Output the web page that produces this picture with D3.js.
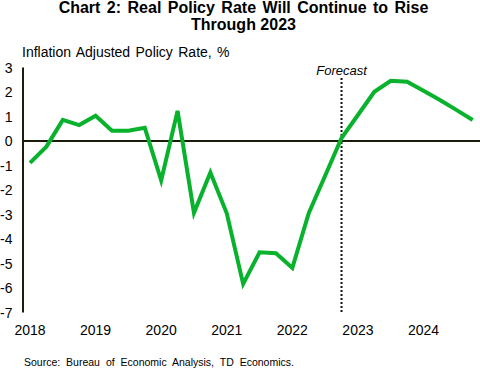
<!DOCTYPE html>
<html><head><meta charset="utf-8">
<script src="https://cdn.jsdelivr.net/npm/d3@7/dist/d3.min.js"></script>
<style>body{margin:0;background:#fff;} svg{display:block;font-family:"Liberation Sans",Arial,sans-serif;}</style>
</head><body>
<svg id="c" width="480" height="369"></svg>
<script>
const quarters = ["2018Q1","2018Q2","2018Q3","2018Q4","2019Q1","2019Q2","2019Q3","2019Q4",
"2020Q1","2020Q2","2020Q3","2020Q4","2021Q1","2021Q2","2021Q3","2021Q4",
"2022Q1","2022Q2","2022Q3","2022Q4","2023Q1","2023Q2","2023Q3","2023Q4",
"2024Q1","2024Q2","2024Q3","2024Q4"];
const realRate = [-0.89,-0.23,0.86,0.65,1.03,0.42,0.42,0.54,
-1.61,1.23,-2.93,-1.29,-2.95,-5.83,-4.54,-4.58,
-5.18,-2.95,-1.42,0.12,1.06,2.01,2.46,2.42,
2.05,1.67,1.27,0.86];
const yTicks = [3,2,1,0,-1,-2,-3,-4,-5,-6,-7];
const xLabels = ["2018","2019","2020","2021","2022","2023","2024"];
const forecastStart = "2022Q4";

const svg = d3.select("#c");
const x = d3.scalePoint().domain(quarters).range([30, 472.7]);
const y = d3.scaleLinear().domain([-7, 3]).range([312.5, 67.5]);
const axisColor = "#1c1c0c";

// title
svg.append("text").attr("x", 243.5).attr("y", 13).attr("text-anchor","middle")
  .attr("font-size", 16).attr("font-weight","bold").attr("word-spacing", 2)
  .text("Chart 2: Real Policy Rate Will Continue to Rise");
svg.append("text").attr("x", 243.5).attr("y", 29.5).attr("text-anchor","middle")
  .attr("font-size", 16).attr("font-weight","bold").text("Through 2023");
// y axis title
svg.append("text").attr("x", 22).attr("y", 57).attr("font-size", 14).attr("word-spacing", 1.5)
  .text("Inflation Adjusted Policy Rate, %");

// y tick labels
svg.append("g").selectAll("text").data(yTicks).join("text")
  .attr("x", 12.5).attr("y", d => y(d) + 5).attr("text-anchor","end")
  .attr("font-size", 14).text(d => d);

// x tick labels
svg.append("g").selectAll("text").data(xLabels).join("text")
  .attr("x", d => x(d + "Q1")).attr("y", 334.5).attr("text-anchor","middle")
  .attr("font-size", 14).text(d => d);

// forecast line
svg.append("line").attr("x1", x(forecastStart)).attr("x2", x(forecastStart))
  .attr("y1", 78).attr("y2", y(-7)).attr("stroke", "#111").attr("stroke-width", 2)
  .attr("stroke-dasharray", "2,2");
svg.append("text").attr("x", x(forecastStart)).attr("y", 75).attr("text-anchor","middle")
  .attr("font-size", 13).attr("font-style","italic").text("Forecast");

// y axis line
svg.append("line").attr("x1", 23).attr("x2", 23).attr("y1", y(3)).attr("y2", y(-7))
  .attr("stroke", axisColor).attr("stroke-width", 2);
// zero line
svg.append("line").attr("x1", 23).attr("x2", 480).attr("y1", y(0)).attr("y2", y(0))
  .attr("stroke", axisColor).attr("stroke-width", 2);

// data line
const line = d3.line().x((d,i) => x(quarters[i])).y(d => y(d));
svg.append("path").datum(realRate).attr("d", line).attr("fill","none")
  .attr("stroke", "#09B22C").attr("stroke-width", 4).attr("stroke-linejoin","miter");

// source
svg.append("text").attr("x", 24).attr("y", 366).attr("font-size", 10.5)
  .attr("word-spacing", 3).text("Source: Bureau of Economic Analysis, TD Economics.");
</script>
</body></html>
